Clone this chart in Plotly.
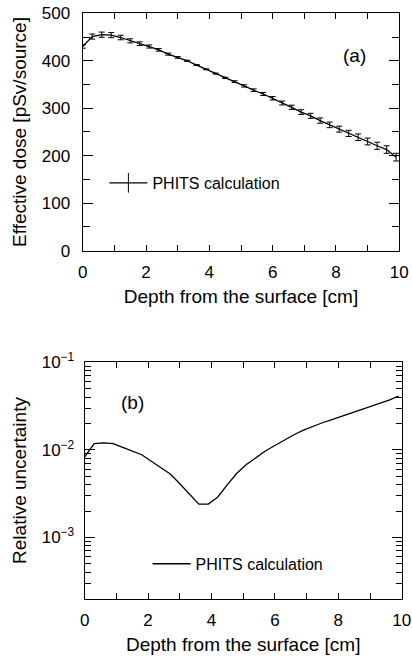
import plotly.graph_objects as go

depth = [0.0, 0.3, 0.6, 0.9, 1.2, 1.5, 1.8, 2.1, 2.4, 2.7, 3.0, 3.3, 3.6, 3.9, 4.2, 4.5, 4.8,
         5.1, 5.4, 5.7, 6.0, 6.3, 6.6, 6.9, 7.2, 7.5, 7.8, 8.1, 8.4, 8.7, 9.0, 9.3, 9.6, 9.9]
dose = [430, 451, 455, 454, 449, 442, 436, 430, 423, 414, 407, 400, 391, 382, 373, 364, 356,
        347, 338, 330, 321, 311, 302, 292, 284, 274, 265, 256, 247, 239, 230, 221, 213, 197]
rel_unc = [0.0083, 0.0118, 0.0120, 0.0118, 0.0107, 0.0096, 0.0088, 0.0074, 0.0063, 0.0053,
           0.0041, 0.0031, 0.0024, 0.0024, 0.0029, 0.0040, 0.0054, 0.0068, 0.0081, 0.0097,
           0.0112, 0.0130, 0.0149, 0.0168, 0.0187, 0.0204, 0.0222, 0.0242, 0.0264, 0.0287,
           0.0311, 0.0340, 0.0370, 0.0412]
dose_err = [d * u for d, u in zip(dose, rel_unc)]

x_ticks = [0, 2, 4, 6, 8, 10]
ya_ticks = [0, 100, 200, 300, 400, 500]
yb_ticks = [1e-3, 1e-2, 1e-1]
yb_ticktext = ["10<sup>\u22123</sup>", "10<sup>\u22122</sup>", "10<sup>\u22121</sup>"]
yb_minor = [m * 10.0 ** e for e in (-4, -3, -2) for m in range(2, 10)]

legend_label = "PHITS calculation"
FONT = "Liberation Sans, Arial, Helvetica, sans-serif"

fig = go.Figure()
fig.add_trace(go.Scatter(
    x=depth, y=dose, mode="lines", xaxis="x", yaxis="y",
    line=dict(color="black", width=1.3),
    error_y=dict(type="data", array=dose_err, visible=True, color="black",
                 thickness=1, width=3),
    showlegend=False,
))
# legend entry (line with error-bar glyph)
fig.add_trace(go.Scatter(
    x=[None], y=[None], mode="lines+markers", xaxis="x", yaxis="y",
    line=dict(color="black", width=1.3),
    marker=dict(symbol="line-ns", size=14, color="black",
                line=dict(color="black", width=1)),
    name=legend_label, legend="legend", showlegend=True,
))
fig.add_trace(go.Scatter(
    x=depth, y=rel_unc, mode="lines", xaxis="x2", yaxis="y2",
    line=dict(color="black", width=1.3),
    name=legend_label, legend="legend2", showlegend=True,
))

common_x = dict(
    range=[0, 10], tickvals=x_ticks, ticks="inside", ticklen=6, tickwidth=1,
    tickcolor="black", mirror="ticks", showline=True, linecolor="black", linewidth=1.2,
    showgrid=False, zeroline=False, automargin=False,
    minor=dict(dtick=1, tick0=0, ticks="inside", ticklen=6, tickwidth=1, tickcolor="black",
               showgrid=False),
    tickfont=dict(size=17, color="black", family=FONT),
    ticklabelstandoff=6,
    title=dict(text="Depth from the surface [cm]", font=dict(size=19, color="black", family=FONT),
               standoff=8),
)

fig.update_layout(
    width=412, height=659,
    margin=dict(l=82, r=10, t=13, b=60),
    paper_bgcolor="white", plot_bgcolor="white",
    font=dict(family=FONT, color="black"),
    xaxis=dict(common_x, domain=[0.0022, 0.9916], anchor="y"),
    yaxis=dict(
        domain=[0.5944, 0.9995], anchor="x", range=[0, 500], tickvals=ya_ticks,
        ticks="inside", ticklen=10, tickwidth=1, tickcolor="black", mirror="ticks",
        showline=True, linecolor="black", linewidth=1.2, showgrid=False, zeroline=False,
        automargin=False,
        minor=dict(dtick=50, tick0=0, ticks="inside", ticklen=7, tickwidth=1,
                   tickcolor="black", showgrid=False),
        tickfont=dict(size=17, color="black", family=FONT), ticklabelstandoff=8,
        title=dict(text="Effective dose [pSv/source]",
                   font=dict(size=19, color="black", family=FONT), standoff=10),
    ),
    xaxis2=dict(common_x, domain=[0.0084, 0.9991], anchor="y2"),
    yaxis2=dict(
        domain=[0.0005, 0.4039], anchor="x2", type="log", range=[-3.70, -1],
        tickvals=yb_ticks, ticktext=yb_ticktext,
        ticks="inside", ticklen=10, tickwidth=1, tickcolor="black", mirror="ticks",
        showline=True, linecolor="black", linewidth=1.2, showgrid=False, zeroline=False,
        automargin=False,
        minor=dict(tickvals=yb_minor, ticks="inside", ticklen=6, tickwidth=1,
                   tickcolor="black", showgrid=False),
        tickfont=dict(size=17, color="black", family=FONT), ticklabelstandoff=6,
        title=dict(text="Relative uncertainty",
                   font=dict(size=19, color="black", family=FONT), standoff=10),
    ),
    legend=dict(x=0.07, y=0.71, xanchor="left", yanchor="middle",
                bgcolor="rgba(0,0,0,0)", font=dict(size=16, color="black", family=FONT),
                itemwidth=38),
    legend2=dict(x=0.205, y=0.06, xanchor="left", yanchor="middle",
                 bgcolor="rgba(0,0,0,0)", font=dict(size=16, color="black", family=FONT),
                 itemwidth=38),
    annotations=[
        dict(text="(a)", xref="x domain", yref="y domain", x=0.858, y=0.824,
             xanchor="center", yanchor="middle",
             showarrow=False, font=dict(size=19, color="black", family=FONT)),
        dict(text="(b)", xref="x2 domain", yref="y2 domain", x=0.152, y=0.828,
             xanchor="center", yanchor="middle",
             showarrow=False, font=dict(size=19, color="black", family=FONT)),
    ],
)

fig.write_html("out.html", config={"displayModeBar": False},
               post_script="document.body.style.margin='0';")
